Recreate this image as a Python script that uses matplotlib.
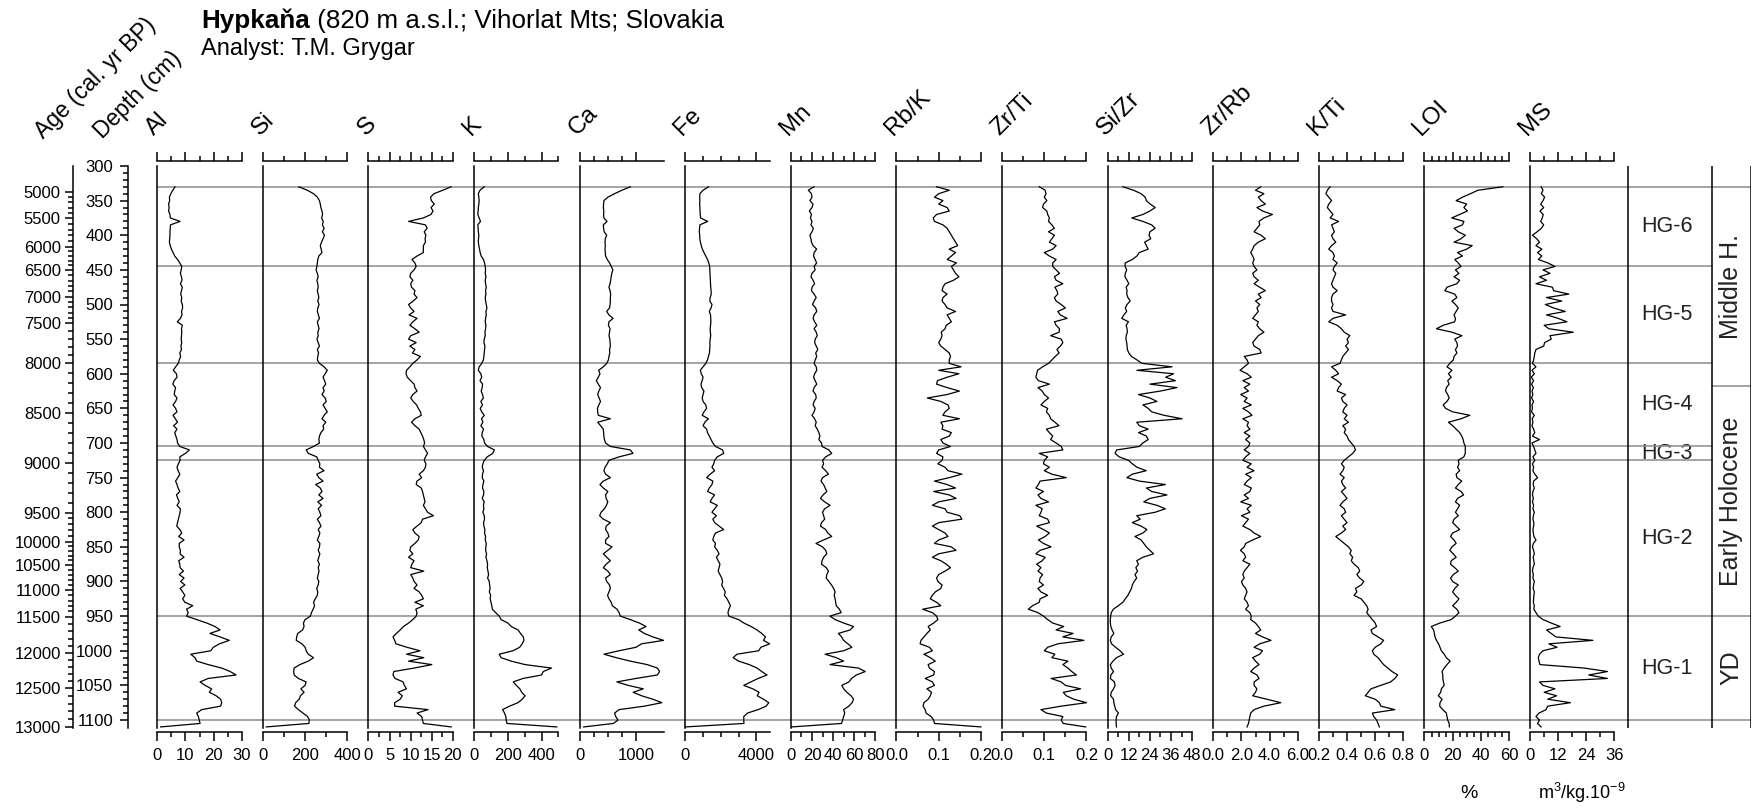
import matplotlib.pyplot as plt
import numpy as np
from matplotlib.ticker import FixedLocator, FormatStrFormatter

plt.rcParams["font.family"] = ["Liberation Sans", "DejaVu Sans"]
plt.rcParams["mathtext.fontset"] = "custom"
plt.rcParams["mathtext.rm"] = "Liberation Sans"
plt.rcParams["mathtext.it"] = "Liberation Sans:italic"

# samples every 5 cm from 330 to 1110 cm (rows of 50 cm)
DEPTH_FIRST = 330
DEPTH_LAST = 1110

AL = [
    6.3, 5.5, 4.8, 4.3, 4.4, 4.0, 4.2, 4.0, 4.5, 4.6,
    8.1, 4.7, 4.6, 4.5, 4.5, 4.4, 4.3, 4.6, 5.0, 5.6,
    6.2, 7.2, 8.0, 8.7, 8.5, 8.2, 8.6, 8.8, 8.2, 8.9,
    8.6, 8.3, 8.7, 8.5, 8.9, 9.0, 8.6, 8.8, 8.2, 7.1,
    8.9, 8.6, 8.7, 8.6, 8.5, 8.7, 8.4, 8.6, 8.0, 8.3,
    7.8, 7.5, 6.5, 5.7, 6.8, 7.0, 6.0, 5.5, 6.5, 6.2,
    6.0, 7.0, 6.5, 5.6, 6.5, 7.0, 5.6, 6.4, 7.2, 5.8,
    7.0, 6.2, 6.6, 7.0, 7.2, 8.0, 11.4, 10.0, 8.0, 8.1,
    7.5, 7.0, 7.4, 8.0, 7.3, 6.5, 7.0, 7.4, 8.0, 6.8,
    7.3, 7.8, 7.0, 8.2, 8.1, 7.8, 7.5, 7.2, 6.9, 8.0,
    8.7, 7.6, 9.5, 7.8, 7.8, 8.2, 8.1, 9.5, 7.6, 8.0,
    8.1, 9.3, 7.8, 9.5, 8.3, 9.8, 8.1, 9.0, 9.8, 9.0,
    9.8, 12.6, 10.4, 11.0, 10.4, 14.0, 17.6, 20.5, 22.3, 18.7,
    22.3, 25.6, 22.1, 19.9, 19.0, 11.9, 13.4, 14.0, 18.1, 22.9,
    25.9, 28.0, 18.1, 15.2, 17.0, 19.3, 18.5, 20.9, 22.5, 22.9,
    22.5, 15.8, 14.0, 14.6, 14.9, 15.2, 1.2,
]

SI = [
    170, 210, 240, 258, 268, 272, 275, 280, 283, 278,
    286, 282, 290, 282, 292, 285, 278, 272, 276, 280,
    265, 260, 258, 256, 252, 258, 262, 256, 260, 262,
    258, 262, 265, 260, 266, 260, 258, 263, 268, 258,
    262, 266, 260, 262, 256, 262, 268, 258, 264, 260,
    258, 268, 290, 305, 295, 285, 292, 298, 285, 290,
    280, 295, 300, 285, 295, 305, 290, 280, 298, 285,
    288, 275, 268, 265, 268, 240, 205, 215, 255, 262,
    270, 268, 290, 255, 265, 285, 250, 272, 280, 265,
    285, 260, 278, 262, 270, 275, 258, 268, 275, 262,
    270, 265, 258, 270, 268, 262, 270, 265, 260, 268,
    262, 266, 262, 258, 265, 262, 255, 260, 258, 248,
    240, 245, 238, 230, 225, 200, 192, 195, 188, 165,
    160, 158, 185, 200, 205, 215, 240, 215, 175, 148,
    146, 148, 168, 205, 200, 180, 195, 178, 172, 155,
    150, 168, 190, 212, 220, 218, 16,
]

S = [
    19.6, 17.6, 15.5, 14.7, 14.9, 15.6, 14.8, 15.3, 14.8, 13.0,
    9.5, 13.5, 13.9, 13.2, 13.6, 13.4, 13.5, 13.0, 13.0, 13.0,
    11.5, 10.3, 11.0, 11.3, 10.8, 10.0, 9.8, 10.5, 10.0, 10.2,
    11.0, 10.8, 11.5, 10.6, 9.5, 10.0, 10.8, 9.6, 11.5, 10.5,
    9.8, 11.0, 12.0, 10.0, 9.5, 11.3, 9.8, 11.0, 10.4, 12.3,
    11.5, 10.5, 9.8, 9.0, 8.9, 9.2, 10.0, 10.8, 11.0, 11.5,
    10.5, 10.0, 10.6, 11.4, 11.8, 12.3, 12.5, 11.0, 10.2, 11.0,
    12.0, 12.4, 12.8, 13.1, 13.3, 13.0, 13.5, 14.0, 13.5, 13.2,
    13.6, 13.5, 13.0, 12.0, 12.6, 11.5, 11.3, 12.5, 12.8, 13.0,
    13.2, 13.4, 13.0, 13.5, 14.0, 15.4, 12.8, 12.5, 11.5, 10.5,
    11.0, 12.0, 11.8, 11.0, 10.0, 9.8, 10.5, 9.5, 10.8, 10.3,
    10.0, 13.1, 10.0, 10.5, 10.8, 11.5, 10.8, 12.0, 12.6, 13.0,
    11.0, 13.0, 11.2, 11.5, 11.3, 10.5, 9.5, 8.3, 7.5, 6.6,
    5.8, 6.2, 6.5, 9.1, 12.2, 9.0, 13.1, 9.5, 15.0, 10.8,
    6.0, 5.8, 6.3, 8.2, 8.5, 9.0, 7.0, 8.0, 7.5, 6.2,
    6.2, 14.1, 11.5, 12.6, 12.8, 13.0, 19.6,
]

K = [
    60, 35, 25, 28, 30, 28, 25, 24, 22, 30,
    38, 22, 24, 25, 28, 26, 25, 28, 32, 36,
    42, 55, 62, 66, 68, 66, 70, 66, 68, 72,
    68, 70, 66, 68, 72, 76, 70, 72, 68, 66,
    70, 68, 64, 66, 60, 58, 64, 62, 60, 58,
    55, 45, 30, 25, 40, 45, 35, 50, 48, 42,
    50, 55, 40, 50, 36, 45, 60, 44, 52, 40,
    56, 48, 46, 58, 62, 80, 120, 110, 78, 60,
    52, 48, 56, 50, 48, 58, 52, 50, 58, 56,
    48, 60, 55, 58, 52, 60, 62, 56, 58, 64,
    62, 68, 66, 72, 70, 68, 74, 70, 76, 80,
    78, 82, 86, 80, 90, 92, 95, 90, 98, 95,
    100, 105, 108, 128, 149, 160, 200, 220, 261, 275,
    292, 295, 285, 270, 230, 149, 160, 220, 302, 459,
    410, 400, 290, 232, 250, 271, 282, 302, 285, 260,
    210, 169, 180, 188, 190, 195, 490,
]

CA = [
    900, 750, 620, 500, 430, 425, 420, 428, 425, 430,
    485, 420, 425, 435, 480, 455, 450, 455, 450, 455,
    460, 490, 530, 560, 590, 570, 560, 550, 540, 520,
    540, 550, 545, 545, 540, 530, 480, 520, 592, 520,
    510, 540, 530, 520, 535, 540, 545, 530, 535, 520,
    510, 480, 420, 337, 360, 330, 296, 330, 370, 340,
    320, 345, 370, 340, 315, 320, 330, 545, 320, 370,
    420, 425, 430, 440, 460, 545, 900, 947, 700, 520,
    490, 450, 430, 460, 545, 420, 360, 420, 500, 460,
    470, 500, 475, 440, 380, 355, 420, 545, 470, 460,
    500, 520, 460, 460, 574, 500, 420, 480, 545, 470,
    420, 500, 545, 460, 480, 530, 545, 520, 495, 520,
    560, 580, 663, 700, 722, 900, 1060, 1180, 1050, 1150,
    1300, 1490, 1100, 1000, 700, 430, 650, 900, 1200, 1380,
    1420, 1380, 1000, 660, 860, 1130, 950, 1100, 1300, 1460,
    1150, 700, 620, 640, 680, 600, 71,
]

FE = [
    1315, 1000, 820, 810, 815, 810, 820, 830, 840, 860,
    1258, 820, 800, 790, 810, 820, 850, 900, 960, 1050,
    1150, 1250, 1320, 1370, 1380, 1390, 1400, 1410, 1420, 1430,
    1450, 1460, 1400, 1380, 1502, 1450, 1350, 1420, 1430, 1440,
    1420, 1400, 1410, 1430, 1400, 1380, 1390, 1370, 1360, 1300,
    1250, 1150, 1000, 845, 900, 1000, 950, 880, 920, 1050,
    1000, 950, 1000, 1150, 1200, 1050, 950, 1300, 1100, 1000,
    1200, 1250, 1350, 1450, 1550, 1700, 2100, 2160, 1800, 1650,
    1600, 1500, 1650, 1400, 1200, 1550, 1500, 1350, 1250, 1650,
    1500, 1400, 1800, 1650, 1500, 1750, 1550, 1650, 1900, 2160,
    1700, 1600, 1550, 1700, 1650, 1800, 1900, 1750, 1850, 1950,
    1900, 1850, 1950, 2050, 2100, 2050, 2150, 2250, 2200, 2350,
    2450, 2540, 2450, 2400, 2450, 3000, 3300, 3700, 4040, 4300,
    4510, 4400, 4750, 4250, 4130, 2910, 2690, 3000, 3600, 4040,
    4300, 4600, 4100, 3700, 3290, 3800, 4150, 4050, 4400, 4700,
    4550, 4100, 3500, 3290, 3290, 3300, 0,
]

MN = [
    21.9, 16.5, 19.5, 20.0, 18.0, 21.0, 20.0, 17.5, 19.5, 18.5,
    20.0, 19.0, 21.3, 20.0, 18.0, 19.0, 19.5, 21.0, 24.4, 22.0,
    21.5, 23.0, 24.4, 22.0, 23.0, 20.0, 19.0, 21.0, 22.5, 20.0,
    19.5, 22.0, 24.0, 22.0, 20.5, 23.5, 24.5, 22.0, 21.0, 22.5,
    24.5, 22.0, 24.0, 25.0, 23.0, 22.5, 24.0, 25.5, 23.5, 24.5,
    23.0, 22.0, 24.0, 24.5, 22.5, 21.5, 23.0, 24.5, 22.0, 21.0,
    23.5, 24.0, 22.0, 21.0, 23.0, 22.0, 20.0, 22.5, 24.0, 23.0,
    25.0, 26.5, 27.5, 26.5, 29.0, 29.5, 36.0, 38.7, 33.0, 30.0,
    31.0, 29.5, 33.0, 35.6, 30.0, 28.5, 31.0, 32.5, 34.0, 30.5,
    28.0, 32.0, 37.1, 32.0, 30.0, 31.0, 32.0, 29.0, 28.0, 33.0,
    35.0, 38.7, 31.0, 23.8, 30.0, 33.0, 34.0, 31.0, 29.5, 29.0,
    33.5, 35.6, 34.0, 33.5, 36.0, 38.5, 40.5, 41.9, 41.0, 41.9,
    42.5, 43.0, 46.0, 47.6, 37.0, 42.0, 50.0, 59.4, 56.0, 45.0,
    48.0, 50.0, 54.0, 57.8, 50.0, 32.4, 43.0, 50.0, 37.1, 64.0,
    70.5, 62.0, 57.5, 55.0, 48.3, 50.0, 53.0, 57.0, 59.4, 58.0,
    55.0, 50.0, 51.0, 50.0, 49.0, 48.0, 0.6,
]

RB_K = [
    0.095, 0.125, 0.100, 0.090, 0.110, 0.100, 0.120, 0.125, 0.095, 0.087,
    0.090, 0.110, 0.120, 0.125, 0.130, 0.135, 0.140, 0.145, 0.125, 0.140,
    0.130, 0.120, 0.142, 0.130, 0.135, 0.140, 0.148, 0.135, 0.115, 0.110,
    0.108, 0.120, 0.110, 0.108, 0.115, 0.120, 0.140, 0.120, 0.125, 0.130,
    0.118, 0.115, 0.106, 0.108, 0.105, 0.100, 0.105, 0.115, 0.125, 0.128,
    0.125, 0.125, 0.153, 0.100, 0.148, 0.120, 0.097, 0.095, 0.120, 0.149,
    0.120, 0.073, 0.105, 0.122, 0.125, 0.115, 0.110, 0.149, 0.105, 0.110,
    0.108, 0.130, 0.125, 0.105, 0.110, 0.128, 0.100, 0.095, 0.110, 0.108,
    0.098, 0.115, 0.122, 0.155, 0.125, 0.090, 0.120, 0.140, 0.088, 0.125,
    0.141, 0.100, 0.085, 0.115, 0.120, 0.150, 0.155, 0.100, 0.085, 0.100,
    0.115, 0.122, 0.100, 0.090, 0.130, 0.141, 0.100, 0.085, 0.105, 0.118,
    0.128, 0.115, 0.100, 0.095, 0.098, 0.108, 0.105, 0.092, 0.085, 0.080,
    0.095, 0.105, 0.062, 0.085, 0.095, 0.098, 0.088, 0.075, 0.080, 0.072,
    0.065, 0.058, 0.056, 0.078, 0.085, 0.065, 0.080, 0.092, 0.075, 0.078,
    0.090, 0.088, 0.068, 0.085, 0.090, 0.072, 0.083, 0.080, 0.075, 0.065,
    0.063, 0.068, 0.070, 0.082, 0.088, 0.090, 0.200,
]

ZR_TI = [
    0.088, 0.102, 0.104, 0.100, 0.106, 0.098, 0.096, 0.106, 0.108, 0.112,
    0.110, 0.118, 0.124, 0.110, 0.124, 0.118, 0.112, 0.128, 0.120, 0.100,
    0.112, 0.128, 0.120, 0.120, 0.128, 0.136, 0.124, 0.128, 0.144, 0.125,
    0.130, 0.132, 0.124, 0.128, 0.140, 0.150, 0.132, 0.138, 0.154, 0.124,
    0.128, 0.136, 0.135, 0.115, 0.140, 0.144, 0.138, 0.130, 0.135, 0.126,
    0.118, 0.110, 0.096, 0.084, 0.082, 0.080, 0.086, 0.112, 0.085, 0.095,
    0.100, 0.110, 0.100, 0.092, 0.108, 0.105, 0.112, 0.115, 0.125, 0.135,
    0.105, 0.112, 0.120, 0.115, 0.128, 0.140, 0.144, 0.088, 0.108, 0.100,
    0.098, 0.112, 0.100, 0.118, 0.152, 0.090, 0.086, 0.080, 0.098, 0.085,
    0.092, 0.110, 0.080, 0.095, 0.092, 0.088, 0.108, 0.112, 0.082, 0.098,
    0.112, 0.102, 0.086, 0.098, 0.116, 0.090, 0.080, 0.102, 0.095, 0.082,
    0.092, 0.085, 0.096, 0.090, 0.088, 0.098, 0.085, 0.092, 0.108, 0.090,
    0.088, 0.072, 0.062, 0.085, 0.098, 0.108, 0.120, 0.146, 0.128, 0.168,
    0.144, 0.194, 0.132, 0.108, 0.100, 0.125, 0.118, 0.156, 0.144, 0.156,
    0.165, 0.176, 0.116, 0.140, 0.150, 0.186, 0.145, 0.152, 0.170, 0.200,
    0.140, 0.092, 0.105, 0.144, 0.140, 0.145, 0.198,
]

SI_ZR = [
    8.6, 14.7, 19.0, 21.3, 22.0, 24.2, 27.0, 24.0, 20.0, 13.7,
    20.0, 25.0, 27.0, 24.0, 23.5, 24.5, 21.0, 22.0, 23.0, 18.0,
    16.6, 14.0, 9.9, 9.9, 10.8, 10.0, 9.8, 11.0, 12.0, 10.5,
    11.0, 10.8, 11.5, 12.8, 11.0, 10.0, 10.8, 9.2, 8.0, 11.8,
    10.5, 11.0, 11.2, 10.5, 10.4, 10.8, 11.0, 11.2, 12.0, 13.5,
    16.6, 19.5, 36.6, 16.6, 37.5, 33.0, 38.5, 24.0, 39.4, 30.0,
    17.5, 24.0, 28.0, 20.0, 23.0, 25.0, 32.0, 42.3, 16.5, 18.0,
    23.0, 17.5, 22.0, 23.0, 20.0, 18.0, 5.1, 4.2, 6.5, 11.8,
    14.0, 16.6, 21.9, 14.0, 10.9, 18.0, 32.8, 22.0, 25.0, 33.7,
    24.0, 20.5, 28.0, 32.8, 27.0, 16.5, 18.5, 14.0, 19.0, 22.3,
    20.0, 15.5, 19.0, 20.5, 22.0, 24.0, 26.1, 20.0, 16.5, 17.5,
    16.0, 17.0, 15.5, 16.5, 15.0, 14.0, 13.5, 12.5, 11.5, 10.0,
    8.6, 6.0, 3.2, 2.0, 1.7, 1.5, 1.5, 1.8, 2.5, 3.5,
    2.0, 1.5, 2.2, 4.5, 7.0, 9.0, 5.0, 3.0, 1.5, 2.0,
    3.3, 1.8, 1.5, 3.8, 4.2, 3.3, 2.0, 1.7, 3.3, 3.5,
    4.0, 4.5, 6.1, 5.0, 4.8, 4.8, 5.0,
]

ZR_RB = [
    3.37, 3.0, 3.6, 3.2, 3.4, 3.7, 3.1, 3.5, 4.2, 3.6,
    3.25, 3.3, 3.1, 2.9, 3.4, 3.7, 3.2, 2.9, 2.8, 2.66,
    2.8, 2.9, 2.8, 2.9, 3.1, 2.8, 2.9, 3.2, 2.9, 3.3,
    3.7, 3.2, 3.4, 3.0, 3.3, 3.1, 3.2, 3.0, 2.8, 3.2,
    3.1, 3.3, 3.6, 3.2, 3.0, 2.8, 2.9, 3.3, 3.4, 2.2,
    2.4, 2.5, 2.2, 1.9, 2.4, 2.7, 2.1, 2.6, 2.2, 2.5,
    1.95, 2.4, 2.2, 2.7, 2.1, 2.5, 2.75, 2.1, 2.5, 2.4,
    2.6, 2.2, 2.6, 2.3, 2.6, 2.5, 2.2, 2.6, 2.3, 2.1,
    2.7, 2.4, 2.9, 2.3, 2.7, 2.4, 2.2, 2.7, 2.6, 2.2,
    2.5, 1.95, 2.7, 2.4, 2.6, 2.0, 2.5, 2.3, 2.1, 2.6,
    2.9, 3.37, 2.8, 2.3, 2.2, 1.93, 2.2, 2.3, 2.1, 2.6,
    2.4, 2.2, 2.1, 2.2, 2.0, 2.1, 2.3, 2.4, 2.3, 2.2,
    2.4, 2.5, 2.3, 2.6, 2.7, 2.66, 3.0, 3.2, 3.37, 3.0,
    3.5, 4.1, 3.3, 2.9, 3.5, 3.3, 2.8, 3.0, 3.25, 2.9,
    2.66, 3.1, 3.25, 2.9, 2.9, 3.1, 3.0, 2.8, 3.8, 4.8,
    3.6, 2.9, 2.66, 2.6, 2.55, 2.5, 2.4,
]

K_TI = [
    0.28, 0.26, 0.25, 0.27, 0.29, 0.27, 0.26, 0.28, 0.30, 0.28,
    0.34, 0.29, 0.30, 0.31, 0.29, 0.30, 0.32, 0.29, 0.27, 0.30,
    0.31, 0.30, 0.33, 0.31, 0.30, 0.32, 0.31, 0.30, 0.29, 0.30,
    0.33, 0.30, 0.29, 0.29, 0.30, 0.29, 0.30, 0.39, 0.30, 0.27,
    0.33, 0.36, 0.38, 0.42, 0.40, 0.41, 0.39, 0.41, 0.39, 0.37,
    0.36, 0.35, 0.29, 0.32, 0.34, 0.29, 0.33, 0.36, 0.34, 0.33,
    0.39, 0.36, 0.37, 0.40, 0.38, 0.37, 0.40, 0.38, 0.41, 0.37,
    0.39, 0.38, 0.40, 0.41, 0.43, 0.45, 0.46, 0.44, 0.41, 0.38,
    0.36, 0.38, 0.37, 0.35, 0.38, 0.36, 0.37, 0.39, 0.36, 0.38,
    0.40, 0.37, 0.35, 0.38, 0.39, 0.36, 0.38, 0.40, 0.37, 0.39,
    0.36, 0.32, 0.35, 0.38, 0.41, 0.43, 0.42, 0.44, 0.43, 0.45,
    0.48, 0.49, 0.47, 0.49, 0.52, 0.50, 0.46, 0.47, 0.45, 0.50,
    0.52, 0.54, 0.55, 0.54, 0.56, 0.58, 0.60, 0.61, 0.57, 0.58,
    0.62, 0.66, 0.64, 0.60, 0.58, 0.59, 0.62, 0.64, 0.66, 0.69,
    0.72, 0.76, 0.74, 0.71, 0.64, 0.57, 0.55, 0.53, 0.60, 0.63,
    0.64, 0.74, 0.58, 0.59, 0.61, 0.62, 0.63,
]

LOI = [
    55.7, 38.0, 32.7, 27.0, 22.5, 30.0, 28.0, 30.5, 25.0, 19.4,
    28.0, 27.0, 21.0, 24.0, 29.0, 26.0, 21.0, 33.9, 30.0, 23.5,
    27.0, 21.5, 24.0, 26.0, 22.0, 24.5, 21.0, 25.0, 23.0, 16.0,
    14.5, 21.5, 23.0, 19.5, 22.0, 24.0, 22.5, 21.0, 22.0, 21.5,
    13.3, 8.5, 19.5, 26.6, 21.5, 23.0, 23.5, 22.0, 23.0, 21.0,
    20.5, 18.0, 16.0, 19.5, 17.0, 19.0, 16.5, 17.5, 15.5, 15.0,
    16.5, 17.5, 16.0, 13.3, 15.0, 20.0, 32.2, 26.0, 17.0, 20.0,
    22.5, 25.0, 26.5, 27.5, 28.0, 29.0, 29.0, 29.0, 28.0, 24.0,
    24.5, 23.5, 25.0, 22.5, 23.0, 26.5, 24.0, 22.0, 26.0, 27.8,
    23.5, 22.0, 25.0, 23.5, 22.0, 24.0, 21.0, 20.0, 22.5, 25.0,
    20.0, 18.5, 21.0, 22.5, 19.5, 18.0, 20.5, 22.5, 19.0, 18.5,
    21.5, 24.0, 20.5, 18.5, 20.0, 24.0, 21.5, 20.0, 22.0, 24.5,
    22.5, 20.0, 23.0, 24.5, 22.0, 19.0, 10.9, 4.8, 6.5, 7.0,
    7.5, 8.5, 10.0, 11.0, 12.0, 14.0, 15.5, 18.2, 16.0, 14.0,
    12.5, 13.0, 13.0, 13.5, 14.0, 12.0, 11.5, 9.8, 12.5, 11.0,
    10.8, 13.0, 15.5, 16.0, 16.5, 17.5, 17.7,
]

MS = [
    4.7, 5.5, 4.8, 6.2, 5.5, 4.5, 5.8, 4.2, 5.6, 5.2,
    4.5, 5.8, 4.8, 3.0, 1.0, 2.8, 4.0, 2.5, 5.0, 3.2,
    5.0, 3.5, 7.6, 10.6, 5.5, 8.5, 4.0, 7.0, 2.5, 9.5,
    10.0, 16.5, 7.0, 13.5, 6.5, 10.0, 15.0, 7.0, 12.0, 15.7,
    6.0, 8.0, 18.4, 8.5, 9.0, 6.2, 5.8, 2.5, 2.0, 1.8,
    1.5, 1.0, 2.5, 0.8, 1.8, 0.5, 1.5, 0.6, 1.4, 0.8,
    1.2, 0.6, 1.5, 0.8, 1.0, 0.6, 1.8, 0.9, 1.2, 0.8,
    1.5, 2.0, 1.0, 4.0, 0.8, 1.5, 2.0, 2.5, 1.2, 2.0,
    1.0, 1.5, 1.2, 2.0, 3.2, 1.5, 1.3, 1.8, 1.2, 1.0,
    1.4, 1.0, 1.5, 1.2, 1.8, 1.4, 1.2, 1.6, 1.5, 1.2,
    1.4, 1.6, 2.5, 1.4, 1.0, 1.5, 1.8, 1.3, 1.6, 1.8,
    1.2, 1.0, 1.4, 1.2, 1.8, 1.5, 1.3, 1.8, 1.6, 1.5,
    1.4, 1.8, 1.6, 2.5, 3.5, 5.5, 9.0, 12.8, 7.0, 9.0,
    11.0, 26.8, 8.0, 11.5, 5.5, 4.0, 3.5, 3.8, 4.2, 23.1,
    33.0, 25.0, 33.0, 4.0, 5.5, 10.6, 6.0, 11.3, 7.5, 17.2,
    7.5, 6.8, 3.8, 2.5, 4.0, 3.2, 4.7,
]

# age-depth model: depth (cm) at which each labelled age sits
AGE_TICKS = [5000, 5500, 6000, 6500, 7000, 7500, 8000, 8500, 9000,
             9500, 10000, 10500, 11000, 11500, 12000, 12500, 13000]
AGE_TICK_DEPTHS = [337.1, 375.5, 416.5, 450.2, 488.7, 527.1, 584.9, 657.1, 729.3,
                   800.4, 842.5, 876.2, 912.3, 950.8, 1003.7, 1054.2, 1109.7]

ZONE_BOUNDS = [330, 445, 585, 705, 725, 950, 1100]
ZONE_NAMES = ["HG-6", "HG-5", "HG-4", "HG-3", "HG-2", "HG-1"]
PERIOD_BOUNDS = [330, 618, 950, 1100]
PERIOD_NAMES = ["Middle H.", "Early Holocene", "YD"]

# name, values, x-range, label step, tick step, last tick, label format
PANELS = [
    ("Al", AL, (0, 30), 10, 5, 30, "%d"),
    ("Si", SI, (0, 400), 200, 100, 400, "%d"),
    ("S", S, (0, 20), 5, 2.5, 20, "%d"),
    ("K", K, (0, 500), 200, 100, 500, "%d"),
    ("Ca", CA, (0, 1500), 1000, 250, 1000, "%d"),
    ("Fe", FE, (0, 4750), 4000, 1000, 4000, "%d"),
    ("Mn", MN, (0, 80), 20, 10, 80, "%d"),
    ("Rb/K", RB_K, (0, 0.2), 0.1, 0.05, 0.2, "%.1f"),
    ("Zr/Ti", ZR_TI, (0, 0.2), 0.1, 0.05, 0.2, "%.1f"),
    ("Si/Zr", SI_ZR, (0, 48), 12, 6, 48, "%d"),
    ("Zr/Rb", ZR_RB, (0, 6), 2, 1, 6, "%.1f"),
    ("K/Ti", K_TI, (0.2, 0.8), 0.2, 0.1, 0.8, "%.1f"),
    ("LOI", LOI, (0, 60), 20, 5, 60, "%d"),
    ("MS", MS, (0, 36), 12, 6, 36, "%d"),
]

# ---- layout (pixels) ----
W, H = 1758, 811
Y_TOP, Y_BOT = 166, 728
DEPTH_TOP = 300
PX_PER_CM = 0.6925
DEPTH_BOT = DEPTH_TOP + (Y_BOT - Y_TOP) / PX_PER_CM
PANEL_X0, PANEL_STEP, PANEL_W = 157.3, 105.6, 84.4
ZONE_X = (1628, 1712, 1751)
LINE_GRAY = "#8c8c8c"
TICK_FS = 12


def rect(x0, y0, x1, y1):
    return [x0 / W, 1 - y1 / H, (x1 - x0) / W, (y1 - y0) / H]


def steps(lo, hi, step):
    return list(np.round(np.arange(lo, hi + step / 2, step), 6))


fig = plt.figure(figsize=(W / 100, H / 100), dpi=100)

# overlay for zone boundaries and the zone columns
ov = fig.add_axes(rect(PANEL_X0, Y_TOP, ZONE_X[2], Y_BOT))
ov.set_xlim(PANEL_X0, ZONE_X[2])
ov.set_ylim(DEPTH_BOT, DEPTH_TOP)
ov.axis("off")
for b in ZONE_BOUNDS:
    ov.plot([PANEL_X0, ZONE_X[1]], [b, b], color=LINE_GRAY, lw=1.1, zorder=3)
for b in PERIOD_BOUNDS:
    ov.plot([ZONE_X[1], ZONE_X[2]], [b, b], color=LINE_GRAY, lw=1.1, zorder=3)
for x in ZONE_X:
    ov.plot([x, x], [DEPTH_TOP, DEPTH_BOT], color="black", lw=1.1, zorder=3)
for name, top, bot in zip(ZONE_NAMES, ZONE_BOUNDS[:-1], ZONE_BOUNDS[1:]):
    ov.text((ZONE_X[0] + ZONE_X[1]) / 2 - 3, (top + bot) / 2, name, fontsize=15.5,
            ha="center", va="center", color="#222222", zorder=2)
for name, top, bot in zip(PERIOD_NAMES, PERIOD_BOUNDS[:-1], PERIOD_BOUNDS[1:]):
    ov.text((ZONE_X[1] + ZONE_X[2]) / 2, (top + bot) / 2, name, fontsize=18,
            rotation=90, ha="center", va="center", color="#222222")

# curve panels
for i, (name, values, (lo, hi), lab_step, tick_step, tick_end, fmt) in enumerate(PANELS):
    x0 = PANEL_X0 + i * PANEL_STEP
    ax = fig.add_axes(rect(x0, Y_TOP, x0 + PANEL_W, Y_BOT))
    ax.patch.set_alpha(0)
    depth = np.linspace(DEPTH_FIRST, DEPTH_LAST, len(values))
    ax.plot(values, depth, color="black", lw=0.9, clip_on=False, zorder=4)
    ax.set_xlim(lo, hi)
    ax.set_ylim(DEPTH_BOT, DEPTH_TOP)
    ax.set_yticks([])
    ax.spines["right"].set_visible(False)
    for side in ("left", "top", "bottom"):
        ax.spines[side].set_linewidth(1.1)
    ax.spines["top"].set_position(("outward", 3.6))
    ax.spines["bottom"].set_position(("outward", 2.7))
    ax.xaxis.set_major_locator(FixedLocator(steps(lo, tick_end, lab_step)))
    ax.xaxis.set_minor_locator(FixedLocator(steps(lo, tick_end, tick_step)))
    ax.xaxis.set_major_formatter(FormatStrFormatter(fmt))
    ax.tick_params(axis="x", which="both", top=True, bottom=True, direction="out",
                   width=1.1, labelsize=TICK_FS, pad=5)
    ax.tick_params(axis="x", which="major", length=6.5)
    ax.tick_params(axis="x", which="minor", length=3.5)
    fig.text((x0 - 3) / W, 1 - 136 / H, name, fontsize=17.5, rotation=45,
             rotation_mode="anchor", ha="left", va="baseline")

# depth axis
axd = fig.add_axes(rect(128.3, Y_TOP, 129.3, Y_BOT))
axd.patch.set_alpha(0)
axd.set_ylim(DEPTH_BOT, DEPTH_TOP)
for side in ("right", "top", "bottom"):
    axd.spines[side].set_visible(False)
axd.spines["left"].set_linewidth(1.1)
axd.set_xticks([])
axd.yaxis.set_major_locator(FixedLocator(steps(300, 1100, 50)))
axd.yaxis.set_minor_locator(FixedLocator(steps(300, 1100, 10)))
axd.yaxis.set_major_formatter(FormatStrFormatter("%d"))
axd.tick_params(axis="y", which="both", direction="out", width=1.1,
                labelsize=TICK_FS, pad=5)
axd.tick_params(axis="y", which="major", length=6)
axd.tick_params(axis="y", which="minor", length=3.5)

# age axis (ticks placed through the age-depth model)
axa = fig.add_axes(rect(73.3, Y_TOP, 74.3, Y_BOT))
axa.patch.set_alpha(0)
axa.set_ylim(DEPTH_BOT, DEPTH_TOP)
for side in ("right", "top", "bottom"):
    axa.spines[side].set_visible(False)
axa.spines["left"].set_linewidth(1.1)
axa.set_xticks([])
axa.set_yticks(AGE_TICK_DEPTHS)
axa.set_yticklabels([str(a) for a in AGE_TICKS])
minor_ages = np.arange(AGE_TICKS[0], AGE_TICKS[-1] + 1, 100)
axa.yaxis.set_minor_locator(FixedLocator(np.interp(minor_ages, AGE_TICKS, AGE_TICK_DEPTHS)))
axa.tick_params(axis="y", which="both", direction="out", width=1.1,
                labelsize=TICK_FS, pad=3)
axa.tick_params(axis="y", which="major", length=6)
axa.tick_params(axis="y", which="minor", length=3.5)

# rotated axis titles
fig.text(43 / W, 1 - 139 / H, "Age (cal. yr BP)", fontsize=16.5, rotation=45,
         rotation_mode="anchor", ha="left", va="baseline")
fig.text(102 / W, 1 - 139 / H, "Depth (cm)", fontsize=16.5, rotation=45,
         rotation_mode="anchor", ha="left", va="baseline")

# header
t1 = fig.text(201 / W, 1 - 28 / H, "Hypkaňa", fontsize=18.7, fontweight="bold",
              ha="left", va="baseline")
fig.canvas.draw()
bb = t1.get_window_extent()
fig.text(bb.x1 / W, 1 - 28 / H, " (820 m a.s.l.; Vihorlat Mts; Slovakia", fontsize=18.7,
         ha="left", va="baseline")
fig.text(201 / W, 1 - 55 / H, "Analyst: T.M. Grygar", fontsize=17,
         ha="left", va="baseline")

# units under LOI and MS
fig.text(1469 / W, 1 - 793 / H, "%", fontsize=14, ha="center", va="center")
fig.text(1582 / W, 1 - 793 / H, r"m$^3$/kg.10$^{-9}$", fontsize=13,
         ha="center", va="center")

fig.savefig("out.png", dpi=100)
